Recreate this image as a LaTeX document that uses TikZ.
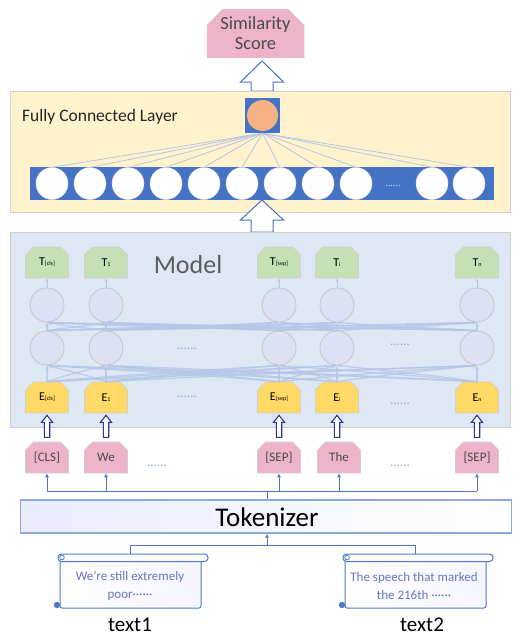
\documentclass[tikz,border=0pt]{standalone}
\usepackage{fontspec}
\setmainfont{Carlito}
\usetikzlibrary{shapes.misc,arrows.meta,calc}
\definecolor{fcbg}{HTML}{FFF2CC}
\definecolor{modelbg}{HTML}{DEE8F4}
\definecolor{barblue}{HTML}{4472C4}
\definecolor{orangec}{HTML}{F4B183}
\definecolor{fanblue}{HTML}{B4C7E7}
\definecolor{tgreen}{HTML}{C5E0B4}
\definecolor{eyellow}{HTML}{FFD966}
\definecolor{tokpink}{HTML}{EDB3CA}
\definecolor{circfill}{HTML}{DCE2F4}
\definecolor{navyc}{HTML}{2F3699}
\definecolor{linkblue}{HTML}{4F79C6}
\definecolor{dotblue}{HTML}{8FAADC}
\definecolor{scrolltext}{HTML}{6677BE}
\definecolor{boxgray}{HTML}{D0D0D0}
\definecolor{darktext}{HTML}{4A4A4A}
\definecolor{tokborder}{HTML}{8EA9DB}
\begin{document}
\begin{tikzpicture}[x=1pt,y=-1pt,
  chbox/.style={chamfered rectangle, chamfered rectangle corners={north west,north east},
    chamfered rectangle xsep=4pt, chamfered rectangle ysep=4pt,
    minimum width=43pt, minimum height=31pt, inner sep=0pt, draw=boxgray, line width=0.6pt},
  tbox/.style={chbox, fill=tgreen, font=\fontsize{12}{12}\selectfont},
  ebox/.style={chbox, fill=eyellow, font=\fontsize{12}{12}\selectfont},
  tokbox/.style={chbox, fill=tokpink, text=darktext, font=\fontsize{13}{13}\selectfont},
  ncirc/.style={circle, minimum size=34pt, inner sep=0pt, fill=circfill, draw=gray!45, line width=0.8pt},
  wcirc/.style={circle, minimum size=32pt, inner sep=0pt, fill=white, draw=gray!25, line width=0.5pt},
  fan/.style={draw=fanblue, line width=0.8pt},
  mconn/.style={draw=fanblue, line width=1.3pt, opacity=0.8, -{Latex[length=4pt,width=4pt]}},
  bigarrow/.style={draw=barblue, fill=white, line width=1pt, line join=miter},
  smallarrow/.style={draw=navyc, fill=white, line width=1.1pt},
  link/.style={draw=linkblue, line width=1pt},
  linkarrow/.style={link, -{Latex[length=4pt,width=4pt]}},
  dots/.style={text=dotblue, font=\fontsize{13}{13}\selectfont, inner sep=0pt},
]
\useasboundingbox (0,0) rectangle (513,637);
\fill[white] (0,0) rectangle (513,637);

% ---------- Similarity score ----------
\node[chamfered rectangle, chamfered rectangle corners={north west,north east},
  chamfered rectangle xsep=8pt, chamfered rectangle ysep=8pt,
  minimum width=97pt, minimum height=47pt, inner sep=0pt, fill=tokpink, draw=boxgray, line width=0.5pt,
  text=darktext, font=\fontsize{18.5}{20}\selectfont, align=center] (score) at (255.5,33.5) {Similarity\\Score};

\draw[bigarrow] (262,61) -- (283.5,82) -- (273,82) -- (273,91) -- (251,91) -- (251,82) -- (240.5,82) -- cycle;

% ---------- Fully connected layer ----------
\node[draw=boxgray, fill=fcbg, line width=0.8pt, minimum width=500pt, minimum height=121pt, inner sep=0pt] (fc) at (260,151.5) {};
\node[anchor=west, font=\fontsize{17.5}{17.5}\selectfont, text=black!85, inner sep=0pt] (fclabel) at (22,117) {Fully Connected Layer};
\node[fill=barblue, minimum width=35pt, minimum height=35pt, inner sep=0pt] (outsq) at (262.5,115.5) {};
\node[circle, fill=orangec, minimum size=31pt, inner sep=0pt] (outc) at (262.5,115.5) {};
\node[fill=barblue, minimum width=464pt, minimum height=33pt, inner sep=0pt] (bar) at (262,183.5) {};
\foreach \k/\x in {1/52,2/90,3/128,4/166,5/204,6/242,7/280,8/318,9/356,10/432,11/469} {
  \node[wcirc] (c\k) at (\x,183.5) {};
  \draw[fan] (outsq.south) -- (c\k.north);
}
\node[text=fanblue!60!white, font=\fontsize{10}{10}\selectfont, inner sep=0pt] (bardots) at (393,186) {......};

\draw[bigarrow] (262,200) -- (283.5,220) -- (273,220) -- (273,232) -- (251,232) -- (251,220) -- (240.5,220) -- cycle;

% ---------- Model ----------
\node[draw=boxgray, fill=modelbg, line width=0.8pt, minimum width=500pt, minimum height=195pt, inner sep=0pt] (model) at (260,329.5) {};
\node[text=darktext!90, font=\fontsize{26}{26}\selectfont, inner sep=0pt] (modellabel) at (188,265) {Model};

\node[tbox] (T1) at (47,262.5) {T{\fontsize{6}{6}\selectfont[cls]}};
\node[tbox] (T2) at (106,262.5) {T{\fontsize{6}{6}\selectfont 1}};
\node[tbox] (T3) at (279,262.5) {T{\fontsize{6}{6}\selectfont[sep]}};
\node[tbox] (T4) at (337,262.5) {T{\fontsize{6}{6}\selectfont i}};
\node[tbox] (T5) at (477,262.5) {T{\fontsize{6}{6}\selectfont n}};

\node[ebox] (E1) at (47,397.5) {E{\fontsize{6}{6}\selectfont[cls]}};
\node[ebox] (E2) at (106,397.5) {E{\fontsize{6}{6}\selectfont 1}};
\node[ebox] (E3) at (279,397.5) {E{\fontsize{6}{6}\selectfont[sep]}};
\node[ebox] (E4) at (337,397.5) {E{\fontsize{6}{6}\selectfont i}};
\node[ebox] (E5) at (477,397.5) {E{\fontsize{6}{6}\selectfont n}};

\foreach \i/\x in {1/47,2/106,3/279,4/337,5/477} {
  \node[ncirc] (U\i) at (\x,305) {};
  \node[ncirc] (L\i) at (\x,348) {};
}
\foreach \i/\xi in {1/47,2/106,3/279,4/337,5/477} {
  \foreach \j/\xj in {1/47,2/106,3/279,4/337,5/477} {
    \pgfmathsetmacro\dx{0.45*(\xj-\xi)}
    \draw[mconn] (E\i.north) .. controls +(\dx,-9) and +(-\dx,7) .. (L\j.south);
    \draw[mconn] (L\i.north) .. controls +(\dx,-4) and +(-\dx,5) .. (U\j.south);
  }
  \draw[draw=fanblue, line width=0.8pt, -{Latex[length=3pt,width=3pt]}] (U\i.north) -- (T\i.south);
}
\node[dots] (d1) at (187,349) {......};
\node[dots] (d2) at (400,345) {......};
\node[dots] (d3) at (187,397) {......};
\node[dots] (d4) at (400,404) {......};

% ---------- Tokens ----------
\node[tokbox] (K1) at (47,457.5) {[CLS]};
\node[tokbox] (K2) at (106,457.5) {We};
\node[tokbox] (K3) at (279,457.5) {[SEP]};
\node[tokbox] (K4) at (339,457.5) {The};
\node[tokbox] (K5) at (477,457.5) {[SEP]};
\node[dots] (d5) at (157,466) {......};
\node[dots] (d6) at (400,466) {......};

\foreach \i in {1,...,5} {
  \path (E\i.south) coordinate (eb\i);
  \draw[smallarrow] ($(eb\i)+(0,2)$) -- ++(5.5,7) -- ++(-2.8,0) -- ++(0,15) -- ++(-5.4,0) -- ++(0,-15) -- ++(-2.8,0) -- cycle;
}

% ---------- Tokenizer ----------
\node[draw=tokborder, line width=1.3pt, left color=black!3!blue!8, right color=white, minimum width=491pt, minimum height=33pt, inner sep=0pt] (tok) at (266,516.5) {};
\node[font=\fontsize{27}{27}\selectfont, inner sep=0pt] (toklabel) at (267,517) {Tokenizer};

\coordinate (branch) at (267,491);
\draw[link] (tok.north -| branch) -- (branch);
\draw[link] (K1.south |- branch) -- (K5.south |- branch);
\foreach \i in {1,...,5} {
  \draw[linkarrow] (K\i.south |- branch) -- (K\i.south);
}

% ---------- Scrolls ----------
\foreach \n/\sx in {1/58,2/343} {
  \begin{scope}[shift={(\sx,554)}]
    \draw[draw=linkblue, line width=1pt, left color=white, right color=blue!4, rounded corners=2pt]
      (2,5) -- (2,54) -- (143,54) -- (143,5);
    \draw[draw=linkblue, line width=1pt, fill=white, rounded corners=3.5pt] (0,0) rectangle (150,7.5);
    \draw[draw=linkblue, line width=0.8pt] (4,3.5) circle (2.3);
    \fill[linkblue] (-1,51) circle (3.2);
  \end{scope}
}
\coordinate (s1top) at (130,554);
\coordinate (s2top) at (415,554);
\node[text=scrolltext, font=\fontsize{13}{18}\selectfont, align=center, inner sep=0pt] (s1text) at (130,586) {We’re still extremely\\poor······};
\node[text=scrolltext, font=\fontsize{13}{18}\selectfont, align=center, inner sep=0pt] (s2text) at (414,586) {The speech that marked\\the 216th ······};

\coordinate (join) at (267,545);
\draw[link] (s1top) -- (s1top |- join) -- (s2top |- join) -- (s2top);
\draw[linkarrow] (join) -- (tok.south -| join);

\node[font=\fontsize{21}{21}\selectfont, inner sep=0pt] (t1) at (130,625) {text1};
\node[font=\fontsize{21}{21}\selectfont, inner sep=0pt] (t2) at (422,625) {text2};
\end{tikzpicture}
\end{document}
